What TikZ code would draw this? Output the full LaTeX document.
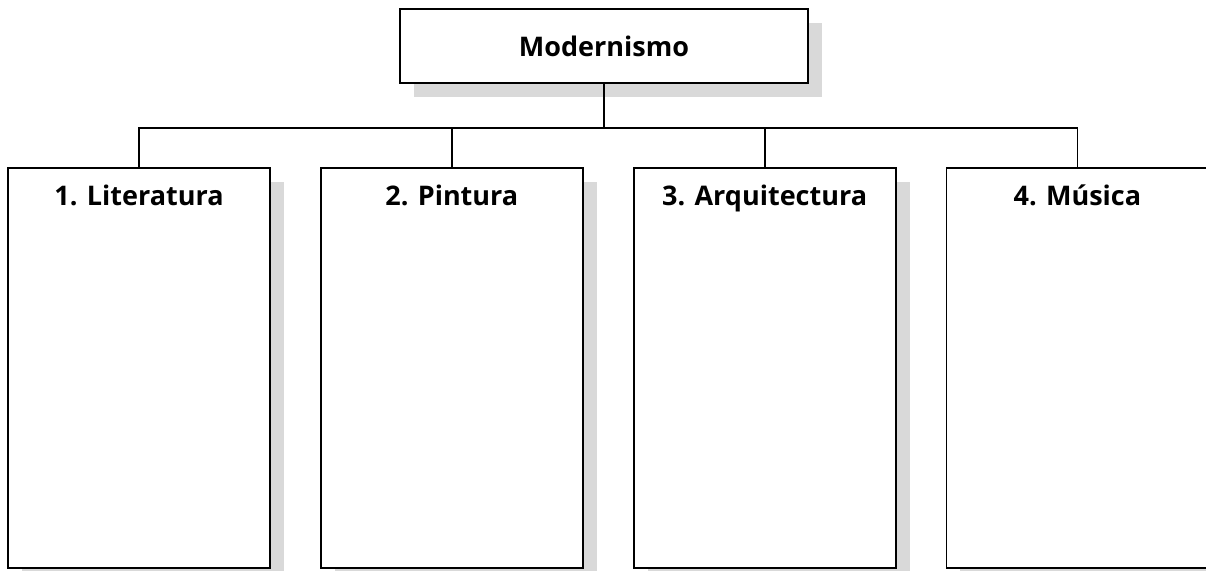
\documentclass[tikz,border=0pt]{standalone}
\usepackage{fontspec}
\newfontfamily\chartfont{Open Sans}
\usepackage{tikz}
\usetikzlibrary{positioning,shadows}
\definecolor{ShadowGray}{HTML}{D9D9D9}
\tikzset{
  node distance=49pt,
  box/.style={
    draw,
    line width=1.8pt,
    fill=white,
    align=center,
    font=\chartfont\bfseries\fontsize{27}{32}\selectfont,
    drop shadow={shadow xshift=14pt, shadow yshift=-14pt, fill=ShadowGray, opacity=1}
  },
  topic/.style={box, minimum width=408pt, minimum height=74pt},
  panel/.style={box, minimum width=262pt, inner ysep=20pt,
    text height=18pt, text depth=342pt, anchor=north},
  link/.style={line width=1.8pt}
}
\begin{document}
\begin{tikzpicture}
  \useasboundingbox (0pt,0pt) rectangle (1206pt,-570pt);
  \node[topic] (modern) at (604pt,-46pt) {Modernismo};
  \node[panel] (lit) at (139pt,-167pt) {1. Literatura};
  \node[panel, right=of lit] (pin) {2. Pintura};
  \node[panel, right=of pin] (arq) {3. Arquitectura};
  \node[panel, right=of arq] (mus) {4. Música};

  \draw[link] (modern.south) -- ++(0,-44pt) coordinate (bus);
  \draw[link] (lit.north) |- (bus) -| (mus.north);
  \draw[link] (pin.north) -- (pin.north |- bus);
  \draw[link] (arq.north) -- (arq.north |- bus);
\end{tikzpicture}
\end{document}
